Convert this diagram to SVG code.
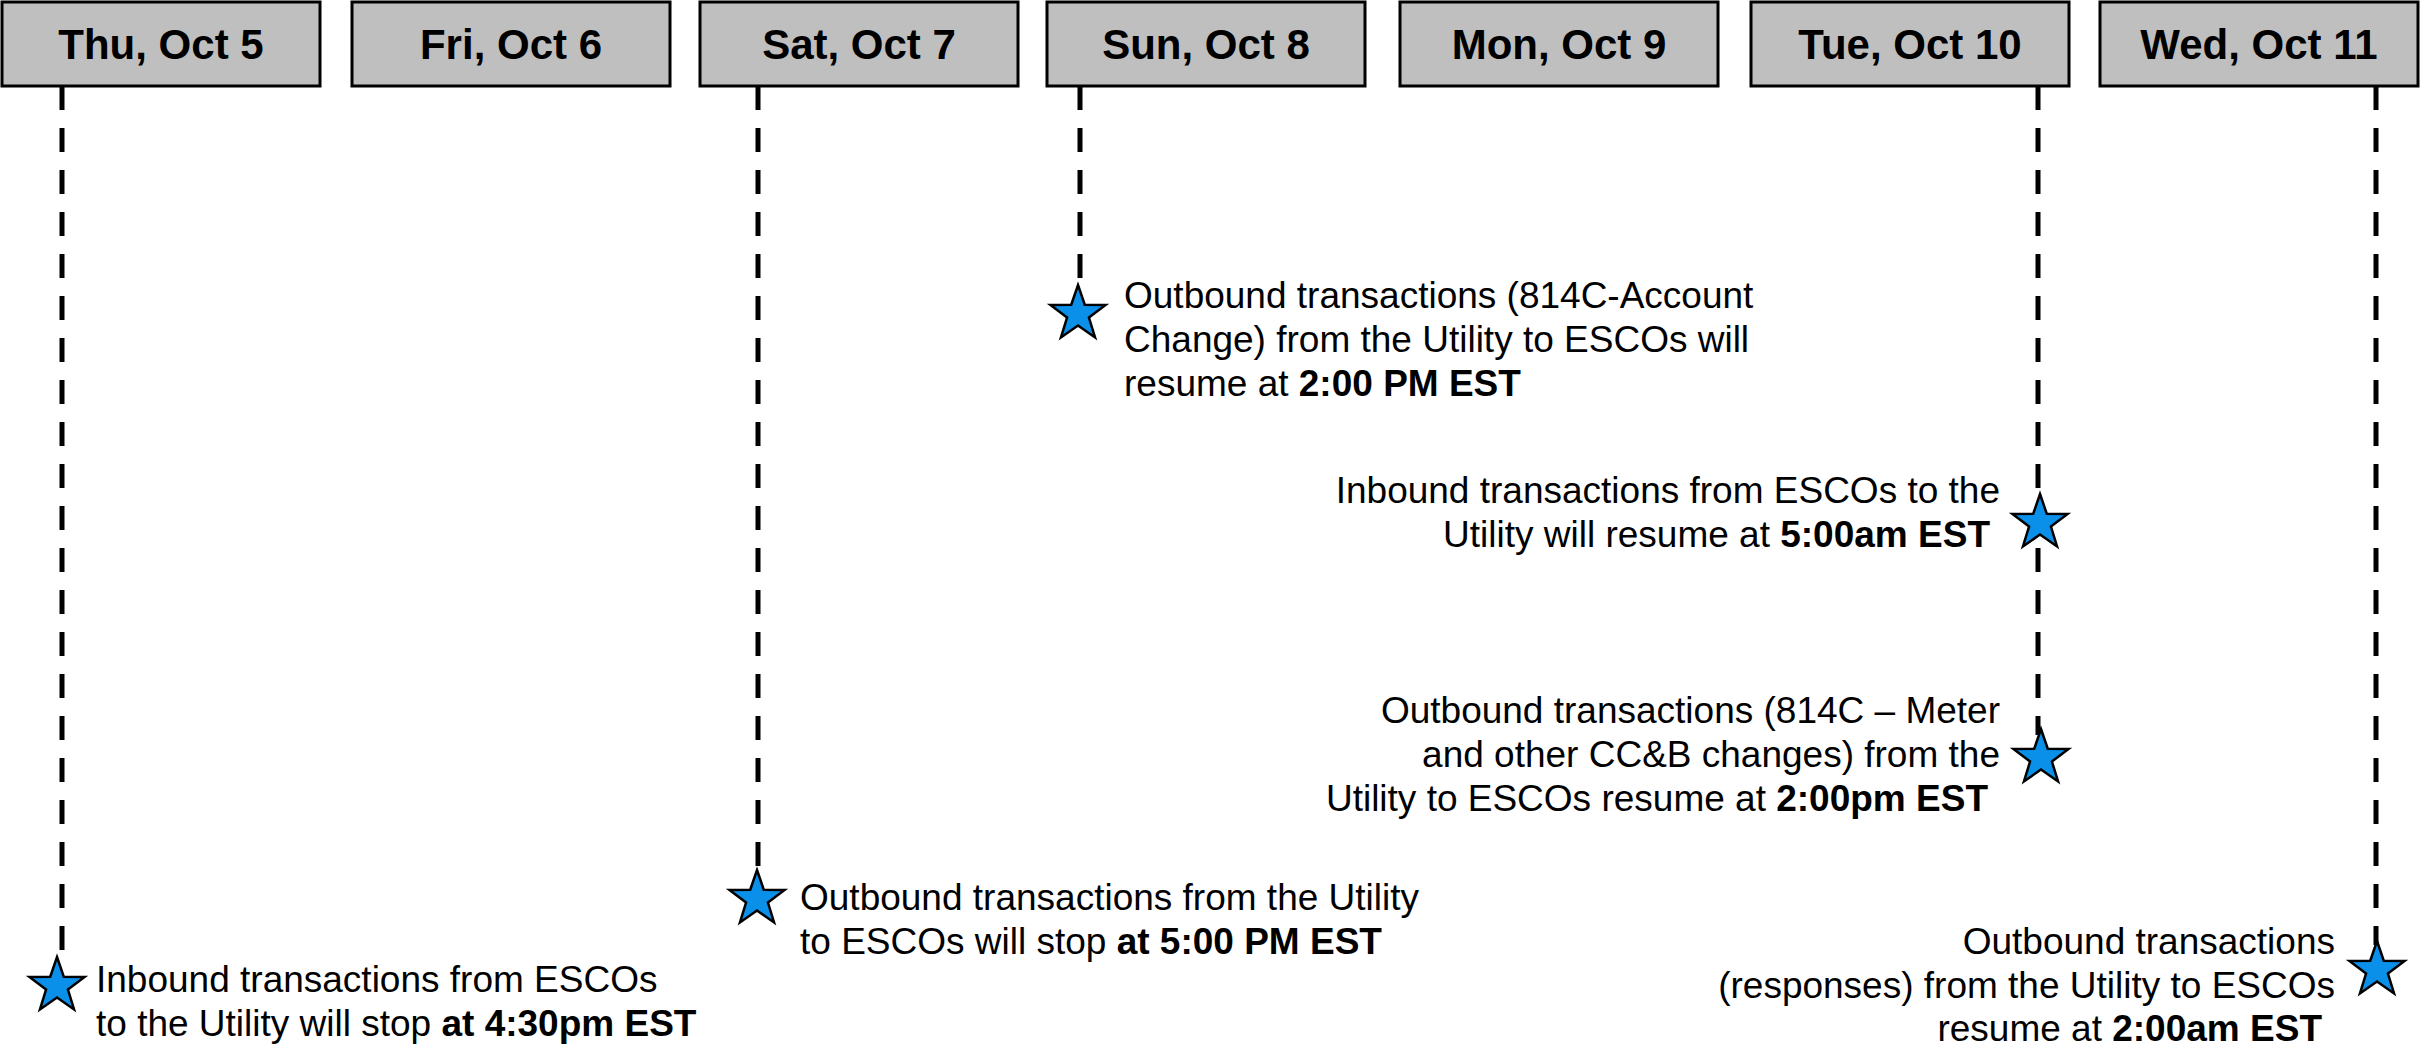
<svg xmlns="http://www.w3.org/2000/svg" xmlns:xlink="http://www.w3.org/1999/xlink" width="2420" height="1051" viewBox="0 0 2420 1051">
<style>
.box{fill:#bfbfbf;stroke:#000;stroke-width:3}
.hd{font-family:"Liberation Sans",Arial,sans-serif;font-weight:bold;font-size:42px;fill:#000;text-anchor:middle}
.tx{font-family:"Liberation Sans",Arial,sans-serif;font-size:37px;fill:#000}
.end{text-anchor:end}
.b{font-weight:bold}
.dash{stroke:#000;stroke-width:5;stroke-dasharray:24 18;fill:none}
.glow{stroke:#c4c4c4;stroke-width:16;fill:none;filter:url(#blur)}
.star{fill:#0a90e8;stroke:#000;stroke-width:2.5;stroke-linejoin:miter}
</style>
<defs>
<filter id="blur" x="-2" y="-0.1" width="5" height="1.2"><feGaussianBlur stdDeviation="3.5"/></filter>
<polygon id="star" class="star" points="0,-29 6.76,-9.3 27.58,-8.96 10.94,3.55 17.05,23.46 0,11.5 -17.05,23.46 -10.94,3.55 -27.58,-8.96 -6.76,-9.3"/>
</defs>
<rect width="2420" height="1051" fill="#fff"/>
<g id="connectors">
<line class="glow" x1="61" y1="90" x2="61" y2="958"/>
<line class="glow" x1="757" y1="90" x2="757" y2="870"/>
<line class="glow" x1="1079" y1="90" x2="1079" y2="286"/>
<line class="glow" x1="2037" y1="90" x2="2037" y2="733"/>
<line class="glow" x1="2375" y1="90" x2="2375" y2="943"/>
<line class="dash" x1="62" y1="86" x2="62" y2="960"/>
<line class="dash" x1="758" y1="86" x2="758" y2="872"/>
<line class="dash" x1="1080" y1="86" x2="1080" y2="288"/>
<line class="dash" x1="2038" y1="86" x2="2038" y2="735"/>
<line class="dash" x1="2376" y1="86" x2="2376" y2="945"/>
</g>
<g id="day-thu"><rect class="box" x="2" y="2" width="318" height="84"/><text class="hd" x="161" y="59">Thu, Oct 5</text></g>
<g id="day-fri"><rect class="box" x="352" y="2" width="318" height="84"/><text class="hd" x="511" y="59">Fri, Oct 6</text></g>
<g id="day-sat"><rect class="box" x="700" y="2" width="318" height="84"/><text class="hd" x="859" y="59">Sat, Oct 7</text></g>
<g id="day-sun"><rect class="box" x="1047" y="2" width="318" height="84"/><text class="hd" x="1206" y="59">Sun, Oct 8</text></g>
<g id="day-mon"><rect class="box" x="1400" y="2" width="318" height="84"/><text class="hd" x="1559" y="59">Mon, Oct 9</text></g>
<g id="day-tue"><rect class="box" x="1751" y="2" width="318" height="84"/><text class="hd" x="1910" y="59">Tue, Oct 10</text></g>
<g id="day-wed"><rect class="box" x="2100" y="2" width="318" height="84"/><text class="hd" x="2259" y="59">Wed, Oct 11</text></g>
<g id="event-thu">
<use xlink:href="#star" href="#star" transform="translate(57,986)"/>
<text class="tx" x="96" y="992">Inbound transactions from ESCOs</text>
<text class="tx" x="96" y="1036">to the Utility will stop <tspan class="b">at 4:30pm EST</tspan></text>
</g>
<g id="event-sat">
<use xlink:href="#star" href="#star" transform="translate(757,899)"/>
<text class="tx" x="800" y="910">Outbound transactions from the Utility</text>
<text class="tx" x="800" y="954">to ESCOs will stop <tspan class="b">at 5:00 PM EST</tspan></text>
</g>
<g id="event-sun">
<use xlink:href="#star" href="#star" transform="translate(1078,314)"/>
<text class="tx" x="1124" y="308">Outbound transactions (814C-Account</text>
<text class="tx" x="1124" y="352">Change) from the Utility to ESCOs will</text>
<text class="tx" x="1124" y="396">resume at <tspan class="b">2:00 PM EST</tspan></text>
</g>
<g id="event-tue-1">
<use xlink:href="#star" href="#star" transform="translate(2040,523)"/>
<text class="tx end" x="2000" y="503">Inbound transactions from ESCOs to the</text>
<text class="tx end" x="1990" y="547">Utility will resume at <tspan class="b">5:00am EST</tspan></text>
</g>
<g id="event-tue-2">
<use xlink:href="#star" href="#star" transform="translate(2041,758)"/>
<text class="tx end" x="2000" y="723">Outbound transactions (814C – Meter</text>
<text class="tx end" x="2000" y="767">and other CC&amp;B changes) from the</text>
<text class="tx end" x="1988" y="811">Utility to ESCOs resume at <tspan class="b">2:00pm EST</tspan></text>
</g>
<g id="event-wed">
<use xlink:href="#star" href="#star" transform="translate(2377,970)"/>
<text class="tx end" x="2335" y="954">Outbound transactions</text>
<text class="tx end" x="2335" y="998">(responses) from the Utility to ESCOs</text>
<text class="tx end" x="2322" y="1041">resume at <tspan class="b">2:00am EST</tspan></text>
</g>
</svg>
